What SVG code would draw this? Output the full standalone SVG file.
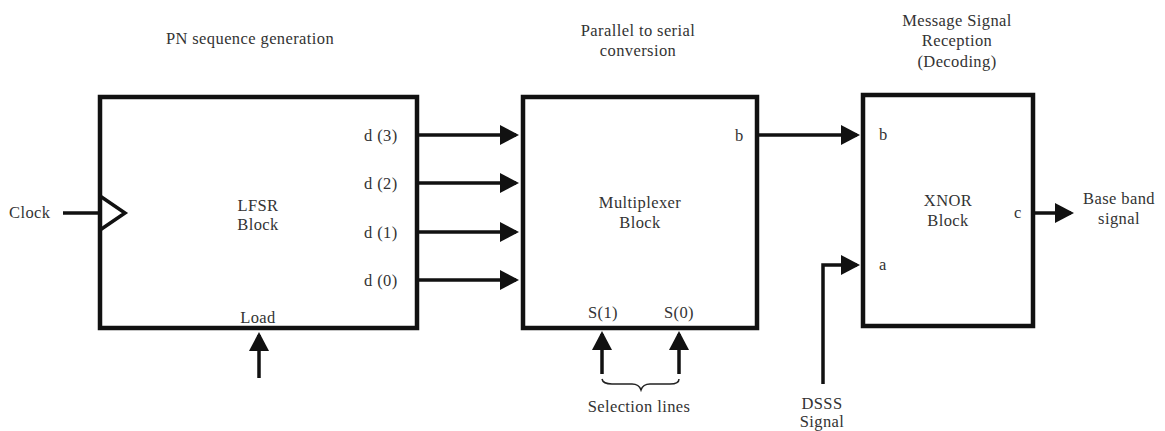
<svg xmlns="http://www.w3.org/2000/svg" width="1165" height="431" viewBox="0 0 1165 431">
  <defs>
    <style>
      .box { fill: #fff; stroke: #111; stroke-width: 4.5; }
      .wire { fill: none; stroke: #111; stroke-width: 3.5; }
      .lbl { font-family: "Liberation Serif", "Times New Roman", serif; font-size: 16.5px; letter-spacing: 0.4px; fill: #333; }
      .mid { text-anchor: middle; }
    </style>
    <marker id="arrow" markerUnits="userSpaceOnUse" markerWidth="20" markerHeight="22" refX="16" refY="11" orient="auto">
      <path d="M0,1 L19,11 L0,21 Z" fill="#111"/>
    </marker>
  </defs>
  <rect width="1165" height="431" fill="#fff"/>

  <!-- section headings -->
  <g id="headings">
    <text class="lbl mid" x="250" y="44">PN sequence generation</text>
    <text class="lbl mid" x="638" y="36">Parallel to serial</text>
    <text class="lbl mid" x="638" y="56">conversion</text>
    <text class="lbl mid" x="957" y="26">Message Signal</text>
    <text class="lbl mid" x="957" y="46">Reception</text>
    <text class="lbl mid" x="957" y="67">(Decoding)</text>
  </g>

  <!-- LFSR block -->
  <g id="lfsr">
    <rect class="box" x="100" y="97" width="317" height="231"/>
    <path class="wire" d="M100,196 L125,213 L100,230" stroke-width="4.5"/>
    <text class="lbl mid" x="258" y="211">LFSR</text>
    <text class="lbl mid" x="258" y="230">Block</text>
    <text class="lbl" x="364" y="141">d (3)</text>
    <text class="lbl" x="364" y="189">d (2)</text>
    <text class="lbl" x="364" y="238">d (1)</text>
    <text class="lbl" x="364" y="286">d (0)</text>
    <text class="lbl mid" x="258" y="323">Load</text>
  </g>

  <!-- Multiplexer block -->
  <g id="mux">
    <rect class="box" x="523" y="97" width="234" height="231"/>
    <text class="lbl mid" x="640" y="208">Multiplexer</text>
    <text class="lbl mid" x="640" y="228">Block</text>
    <text class="lbl" x="735" y="141">b</text>
    <text class="lbl mid" x="603" y="318">S(1)</text>
    <text class="lbl mid" x="679" y="318">S(0)</text>
  </g>

  <!-- XNOR block -->
  <g id="xnor">
    <rect class="box" x="863" y="95" width="170" height="231"/>
    <text class="lbl mid" x="948" y="206">XNOR</text>
    <text class="lbl mid" x="948" y="226">Block</text>
    <text class="lbl" x="879" y="140">b</text>
    <text class="lbl" x="879" y="270">a</text>
    <text class="lbl" x="1014" y="218">c</text>
  </g>

  <!-- external signal labels -->
  <g id="io-labels">
    <text class="lbl" x="9" y="218">Clock</text>
    <text class="lbl mid" x="639" y="412">Selection lines</text>
    <text class="lbl mid" x="822" y="409">DSSS</text>
    <text class="lbl mid" x="822" y="427">Signal</text>
    <text class="lbl mid" x="1119" y="204">Base band</text>
    <text class="lbl mid" x="1119" y="224">signal</text>
  </g>

  <!-- connectors -->
  <g id="connectors">
    <line class="wire" x1="63" y1="213" x2="100" y2="213"/>
    <line class="wire" x1="259" y1="378" x2="259" y2="335" marker-end="url(#arrow)"/>
    <line class="wire" x1="419" y1="135" x2="516" y2="135" marker-end="url(#arrow)"/>
    <line class="wire" x1="419" y1="183" x2="516" y2="183" marker-end="url(#arrow)"/>
    <line class="wire" x1="419" y1="232" x2="516" y2="232" marker-end="url(#arrow)"/>
    <line class="wire" x1="419" y1="280" x2="516" y2="280" marker-end="url(#arrow)"/>
    <line class="wire" x1="602" y1="374" x2="602" y2="334" marker-end="url(#arrow)"/>
    <line class="wire" x1="679" y1="374" x2="679" y2="334" marker-end="url(#arrow)"/>
    <path d="M602,379 Q603,384 612,384 L632,384 Q639,384 641,390 Q643,384 650,384 L670,384 Q679,384 679,379" fill="none" stroke="#222" stroke-width="1.5"/>
    <line class="wire" x1="759" y1="135" x2="857" y2="135" marker-end="url(#arrow)"/>
    <path class="wire" d="M823,384 L823,265 L857,265" marker-end="url(#arrow)"/>
    <line class="wire" x1="1035" y1="213" x2="1071" y2="213" marker-end="url(#arrow)"/>
  </g>
</svg>
